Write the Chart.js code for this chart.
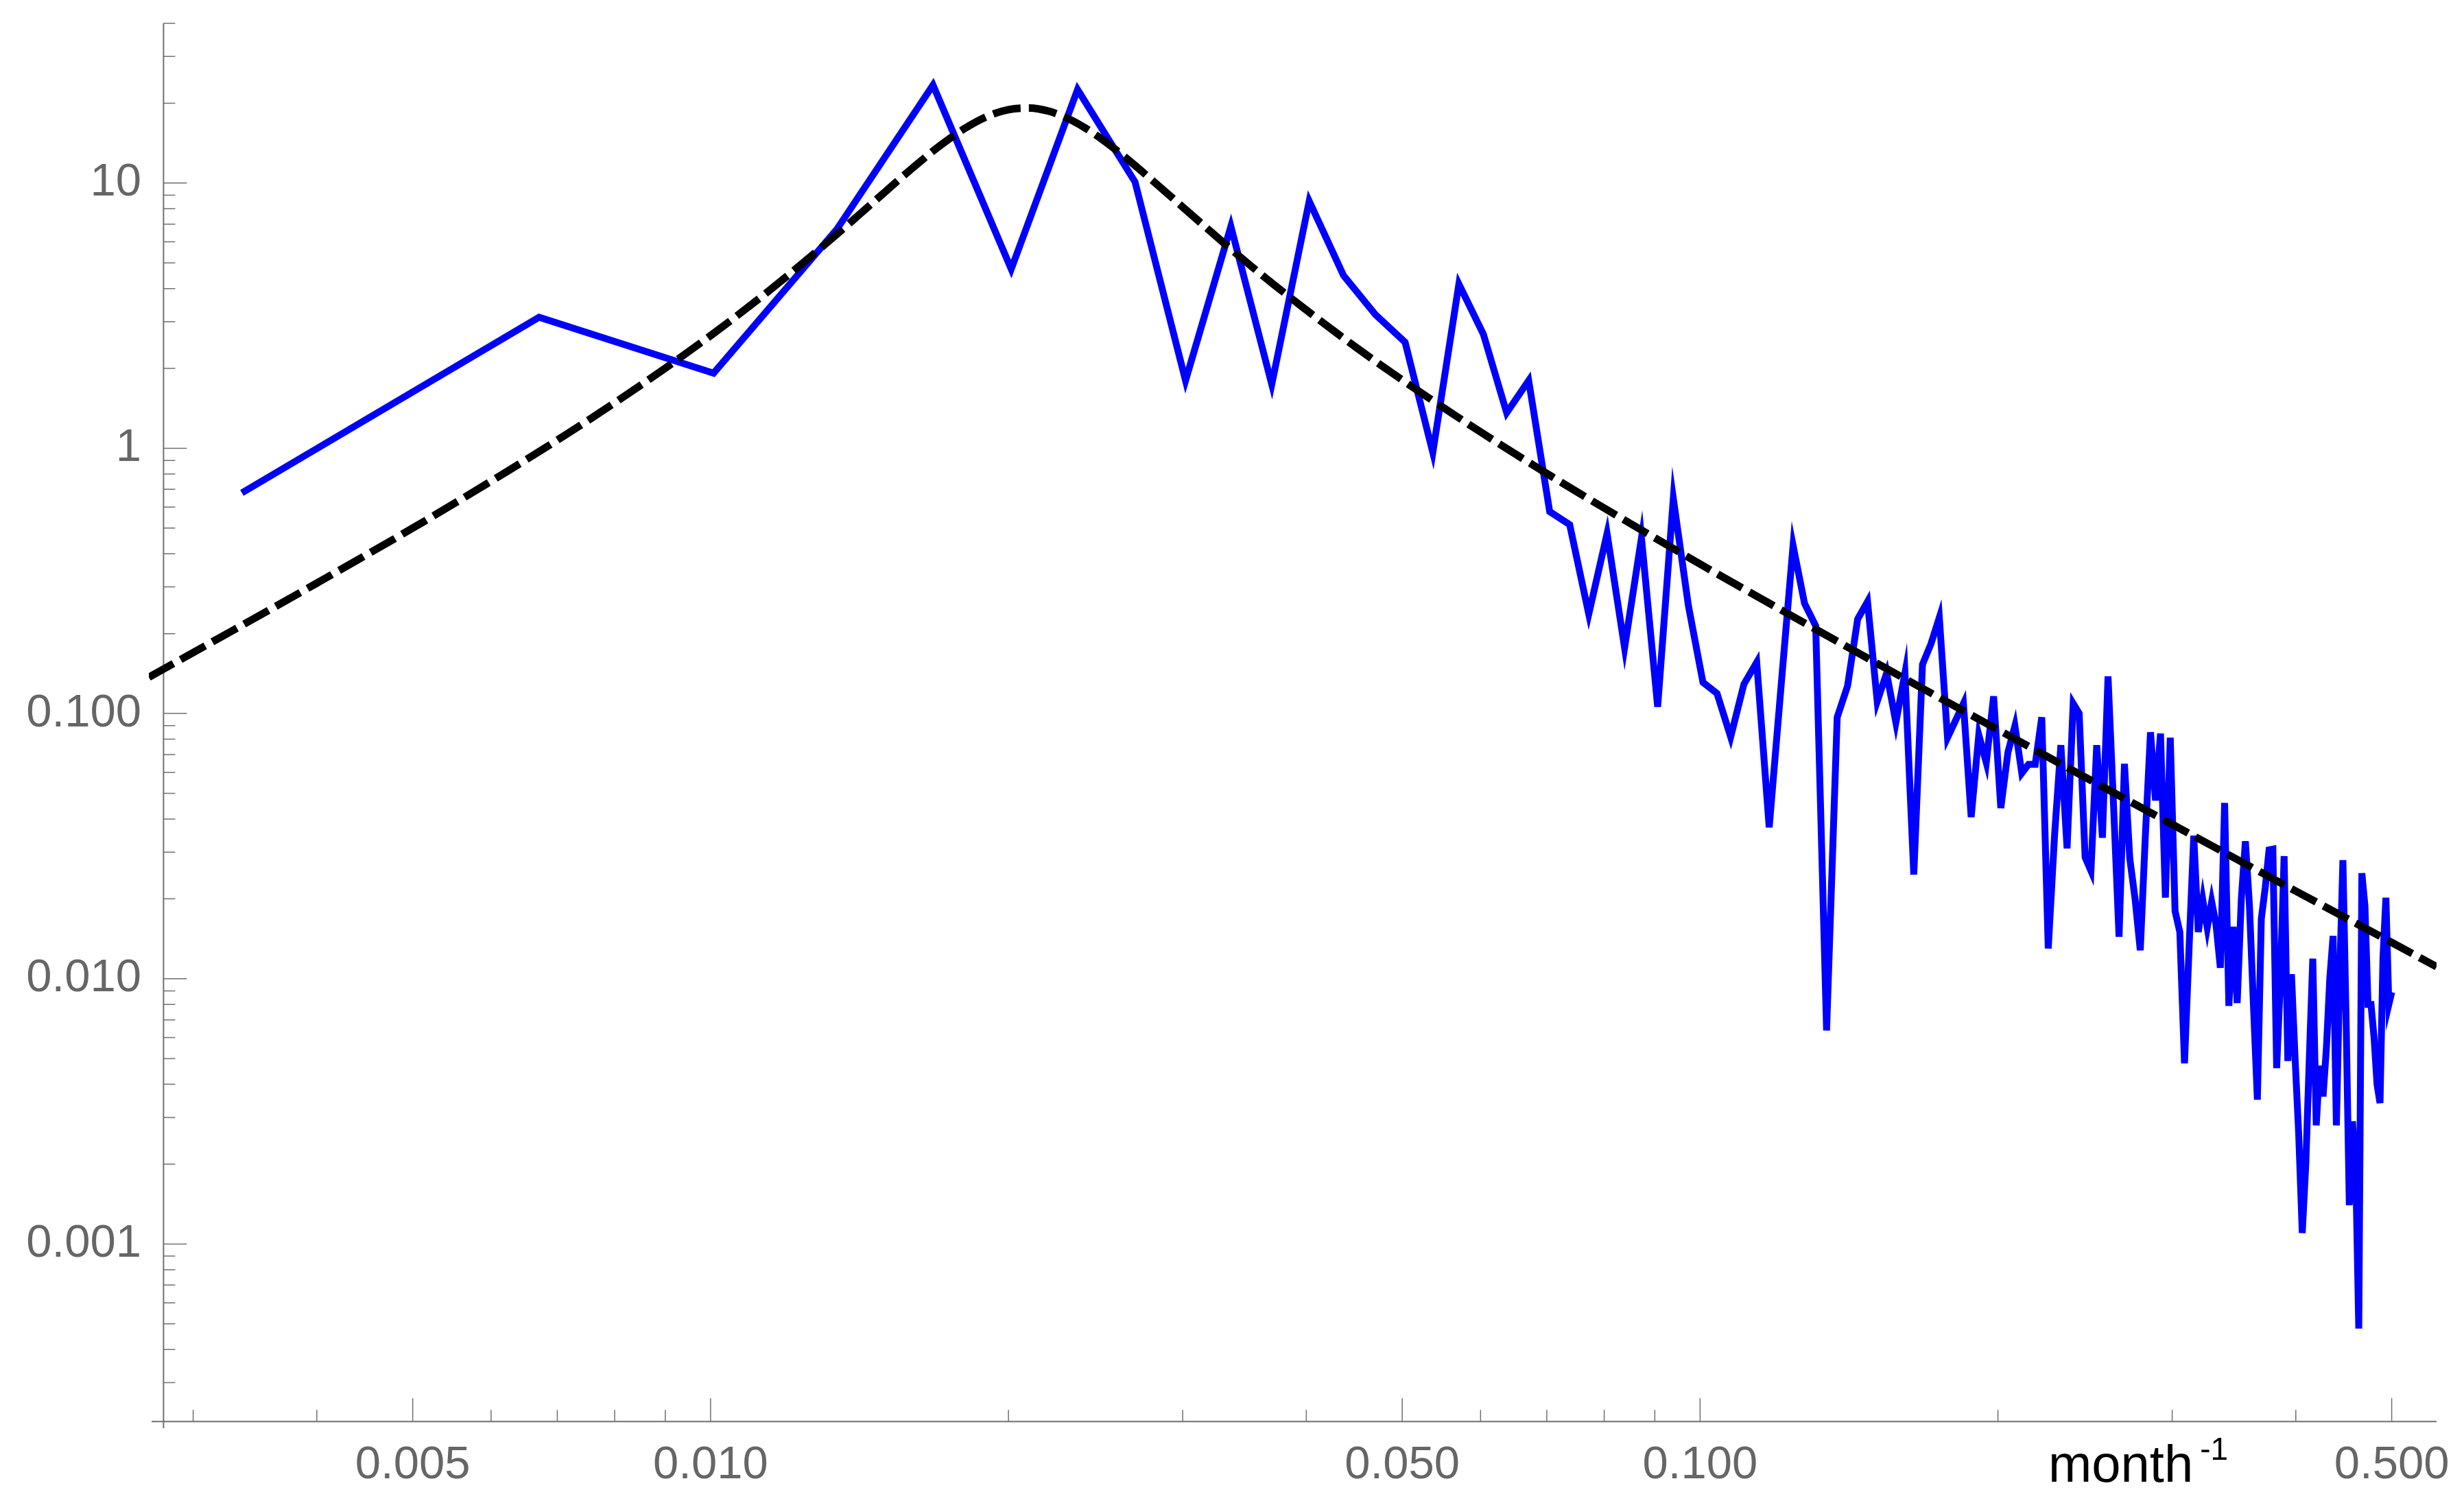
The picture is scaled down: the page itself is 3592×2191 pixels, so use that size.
<!DOCTYPE html>
<html>
<head>
<meta charset="utf-8">
<title>spectrum</title>
<script src="https://cdn.jsdelivr.net/npm/chart.js@4/dist/chart.umd.min.js"></script>
<style>
    html, body { margin: 0; padding: 0; background: #fff; }
    canvas { display: block; }
</style>
</head>
<body>
<canvas id="chart" width="3592" height="2191"></canvas>
<script>
'use strict';

// frequencies (1/month) of the periodogram
var freq = [
    0.00336, 0.00671, 0.01007, 0.01342, 0.01678, 0.02013, 0.02349, 0.02685, 0.03020, 0.03356,
    0.03691, 0.04027, 0.04362, 0.04698, 0.05034, 0.05369, 0.05705, 0.06040, 0.06376, 0.06711,
    0.07047, 0.07383, 0.07718, 0.08054, 0.08389, 0.08725, 0.09060, 0.09396, 0.09732, 0.10067,
    0.10403, 0.10738, 0.11074, 0.11409, 0.11745, 0.12081, 0.12416, 0.12752, 0.13087, 0.13423,
    0.13758, 0.14094, 0.14430, 0.14765, 0.15101, 0.15436, 0.15772, 0.16107, 0.16443, 0.16779,
    0.17114, 0.17450, 0.17785, 0.18121, 0.18456, 0.18792, 0.19128, 0.19463, 0.19799, 0.20134,
    0.20470, 0.20805, 0.21141, 0.21477, 0.21812, 0.22148, 0.22483, 0.22819, 0.23154, 0.23490,
    0.23826, 0.24161, 0.24497, 0.24832, 0.25168, 0.25503, 0.25839, 0.26174, 0.26510, 0.26846,
    0.27181, 0.27517, 0.27852, 0.28188, 0.28523, 0.28859, 0.29195, 0.29530, 0.29866, 0.30201,
    0.30537, 0.30872, 0.31208, 0.31544, 0.31879, 0.32215, 0.32550, 0.32886, 0.33221, 0.33557,
    0.33893, 0.34228, 0.34564, 0.34899, 0.35235, 0.35570, 0.35906, 0.36242, 0.36577, 0.36913,
    0.37248, 0.37584, 0.37919, 0.38255, 0.38591, 0.38926, 0.39262, 0.39597, 0.39933, 0.40268,
    0.40604, 0.40940, 0.41275, 0.41611, 0.41946, 0.42282, 0.42617, 0.42953, 0.43289, 0.43624,
    0.43960, 0.44295, 0.44631, 0.44966, 0.45302, 0.45638, 0.45973, 0.46309, 0.46644, 0.46980,
    0.47315, 0.47651, 0.47987, 0.48322, 0.48658, 0.48993, 0.49329, 0.49664, 0.50000
];

// spectral power
var power = [
    0.679, 3.12, 1.92, 6.7, 23.4, 4.74, 22.5, 10.1, 1.80, 6.86,
    1.74, 8.55, 4.48, 3.19, 2.51, 0.964, 4.16, 2.69, 1.36, 1.80,
    0.577, 0.515, 0.237, 0.477, 0.177, 0.459, 0.106, 0.647, 0.255, 0.131,
    0.119, 0.0816, 0.129, 0.156, 0.0372, 0.13, 0.43, 0.26, 0.214, 0.00638,
    0.0968, 0.127, 0.227, 0.264, 0.111, 0.142, 0.0925, 0.142, 0.0247, 0.153,
    0.183, 0.230, 0.081, 0.094, 0.109, 0.0407, 0.083, 0.0653, 0.116, 0.044,
    0.0714, 0.0898, 0.0595, 0.0643, 0.0643, 0.0968, 0.013, 0.035, 0.076, 0.031,
    0.109, 0.10, 0.0287, 0.0255, 0.076, 0.034, 0.138, 0.045, 0.0144, 0.0646,
    0.0284, 0.020, 0.0128, 0.035, 0.085, 0.047, 0.084, 0.0202, 0.081, 0.018,
    0.015, 0.0048, 0.0133, 0.0346, 0.015, 0.0198, 0.0156, 0.0195, 0.016, 0.011,
    0.046, 0.0079, 0.0157, 0.0081, 0.020, 0.033, 0.019, 0.008, 0.0035, 0.0168,
    0.022, 0.0306, 0.0308, 0.0046, 0.010, 0.029, 0.0049, 0.0104, 0.005, 0.0026,
    0.0011, 0.002, 0.005, 0.0119, 0.0028, 0.0047, 0.0036, 0.0055, 0.010, 0.0145,
    0.0028, 0.010, 0.028, 0.007, 0.0014, 0.0029, 0.002, 0.00048, 0.025, 0.0188,
    0.008, 0.008, 0.006, 0.004, 0.0034, 0.012, 0.0202, 0.008, 0.0089
];

// fitted model curve (dashed)
var fitFreq = [
    0.002706, 0.0033, 0.004, 0.005, 0.006, 0.007, 0.008, 0.009, 0.010, 0.011,
    0.012, 0.013, 0.014, 0.015, 0.016, 0.017, 0.018, 0.019, 0.020, 0.021,
    0.022, 0.023, 0.024, 0.025, 0.026, 0.028, 0.030, 0.033, 0.036, 0.040,
    0.045, 0.050, 0.060, 0.070, 0.080, 0.100, 0.120, 0.150, 0.200, 0.250,
    0.300, 0.400, 0.500, 0.555
];
var fitPower = [
    0.137, 0.207, 0.310, 0.500, 0.751, 1.073, 1.484, 2.004, 2.659, 3.483,
    4.514, 5.796, 7.366, 9.242, 11.39, 13.70, 15.93, 17.78, 18.91, 19.18,
    18.63, 17.47, 15.99, 14.40, 12.86, 10.18, 8.12, 5.95, 4.53, 3.32,
    2.388, 1.809, 1.152, 0.803, 0.595, 0.366, 0.249, 0.1565, 0.0869, 0.0552,
    0.0382, 0.0214, 0.0137, 0.0111
];

// axes
var xRange = [0.002706, 0.555];
var yRange = [0.000202, 40];
var axisOrigin = {x: 0.0028, y: 0.000214};
var xMajor = [0.005, 0.01, 0.05, 0.1, 0.5];
var xLabels = ['0.005', '0.010', '0.050', '0.100', '0.500'];
var xMinor = [0.003, 0.004, 0.006, 0.007, 0.008, 0.009, 0.02, 0.03, 0.04, 0.06, 0.07, 0.08, 0.09, 0.2, 0.3, 0.4];
var yMajor = [0.001, 0.01, 0.1, 1, 10];
var yLabels = ['0.001', '0.010', '0.100', '1', '10'];
var yMinor = [
    0.0003, 0.0004, 0.0005, 0.0006, 0.0007, 0.0008, 0.0009,
    0.002, 0.003, 0.004, 0.005, 0.006, 0.007, 0.008, 0.009,
    0.02, 0.03, 0.04, 0.05, 0.06, 0.07, 0.08, 0.09,
    0.2, 0.3, 0.4, 0.5, 0.6, 0.7, 0.8, 0.9,
    2, 3, 4, 5, 6, 7, 8, 9,
    20, 30, 40
];
var axisTitle = 'month';
var axisTitleSup = '-1';

var FONT = '"Liberation Sans", Arial, sans-serif';
var AXIS_COLOR = '#707070';
var LABEL_COLOR = '#666666';

function zip(xs, ys) {
    return xs.map((x, i) => ({x: x, y: ys[i]}));
}

// mathematica-like axes: ticks point inward, axes cross at axisOrigin
var axesPlugin = {
    id: 'mmaAxes',
    beforeDatasetsDraw: function(chart) {
        var ctx = chart.ctx;
        var xs = chart.scales.x;
        var ys = chart.scales.y;
        var area = chart.chartArea;
        var x0 = xs.getPixelForValue(axisOrigin.x);
        var y0 = ys.getPixelForValue(axisOrigin.y);

        ctx.save();
        ctx.strokeStyle = AXIS_COLOR;
        ctx.lineWidth = 2;
        ctx.beginPath();
        ctx.moveTo(area.left + 4, y0);
        ctx.lineTo(area.right, y0);
        ctx.moveTo(x0, area.top);
        ctx.lineTo(x0, area.bottom);
        ctx.stroke();

        ctx.lineWidth = 1.5;
        ctx.beginPath();
        xMajor.concat(xMinor).forEach(v => {
            var px = xs.getPixelForValue(v);
            var len = xMajor.indexOf(v) >= 0 ? 34 : 17;
            ctx.moveTo(px, y0);
            ctx.lineTo(px, y0 - len);
        });
        yMajor.concat(yMinor).forEach(v => {
            var py = ys.getPixelForValue(v);
            var len = yMajor.indexOf(v) >= 0 ? 34 : 17;
            ctx.moveTo(x0, py);
            ctx.lineTo(x0 + len, py);
        });
        ctx.stroke();
        ctx.restore();
    },
    afterDraw: function(chart) {
        var ctx = chart.ctx;
        var area = chart.chartArea;
        var bx = area.right - 566;
        var by = area.bottom + 78;
        ctx.save();
        ctx.fillStyle = '#000';
        ctx.textBaseline = 'alphabetic';
        ctx.textAlign = 'left';
        ctx.font = '76px ' + FONT;
        ctx.fillText(axisTitle, bx, by);
        var w = ctx.measureText(axisTitle).width;
        ctx.font = '46px ' + FONT;
        ctx.fillText(axisTitleSup, bx + w + 10, by - 32);
        ctx.restore();
    }
};

function fixedAxis(size, key) {
    return function(scale) {
        scale[key] = size;
        scale.paddingTop = 0;
        scale.paddingBottom = 0;
        scale.paddingLeft = 0;
        scale.paddingRight = 0;
    };
}

var chart = new Chart(document.getElementById('chart'), {
    type: 'line',
    data: {
        datasets: [
            {
                label: 'fit',
                data: zip(fitFreq, fitPower),
                borderColor: '#000000',
                borderWidth: 11,
                borderDash: [41, 12],
                pointRadius: 0,
                cubicInterpolationMode: 'monotone',
                fill: false,
                order: 1
            },
            {
                label: 'spectrum',
                data: zip(freq, power),
                borderColor: '#0000ff',
                borderWidth: 10,
                borderJoinStyle: 'miter',
                pointRadius: 0,
                tension: 0,
                fill: false,
                order: 2
            }
        ]
    },
    options: {
        responsive: false,
        animation: false,
        devicePixelRatio: 1,
        layout: {padding: {top: 34, right: 40, bottom: 0, left: 0}},
        plugins: {
            legend: {display: false},
            tooltip: {enabled: false}
        },
        scales: {
            x: {
                type: 'logarithmic',
                position: 'bottom',
                min: xRange[0],
                max: xRange[1],
                grid: {display: false, drawTicks: false},
                border: {display: false},
                afterBuildTicks: scale => {
                    scale.ticks = xMajor.map(v => ({value: v}));
                },
                afterFit: fixedAxis(109, 'height'),
                ticks: {
                    autoSkip: false,
                    maxRotation: 0,
                    padding: 14,
                    color: LABEL_COLOR,
                    font: {family: FONT, size: 67},
                    callback: (value, index) => xLabels[index]
                }
            },
            y: {
                type: 'logarithmic',
                position: 'left',
                min: yRange[0],
                max: yRange[1],
                grid: {display: false, drawTicks: false},
                border: {display: false},
                afterBuildTicks: scale => {
                    scale.ticks = yMajor.map(v => ({value: v}));
                },
                afterFit: fixedAxis(217, 'width'),
                ticks: {
                    autoSkip: false,
                    padding: 11,
                    color: LABEL_COLOR,
                    font: {family: FONT, size: 67},
                    callback: (value, index) => yLabels[index]
                }
            }
        }
    },
    plugins: [axesPlugin]
});
</script>
</body>
</html>
